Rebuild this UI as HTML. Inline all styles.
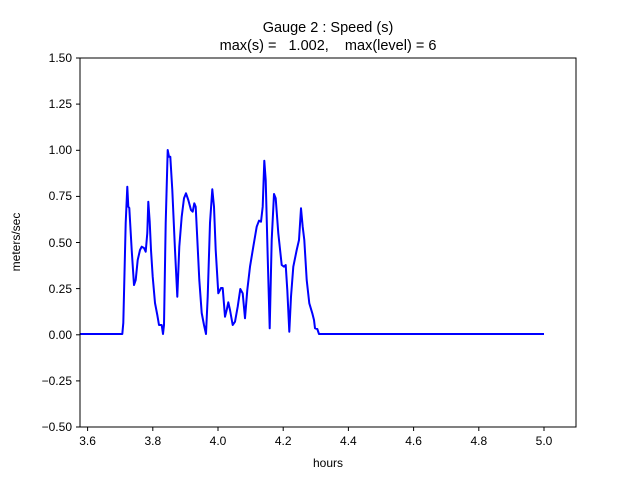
<!DOCTYPE html>
<html><head><meta charset="utf-8"><style>body{margin:0;background:#fff}svg{display:block}text{font-family:"Liberation Sans","DejaVu Sans",sans-serif;fill:#000}</style></head><body>
<svg width="640" height="480" xmlns="http://www.w3.org/2000/svg">
<rect width="640" height="480" fill="#fff"/>
<text x="328" y="32" font-size="14.5" text-anchor="middle">Gauge 2 : Speed (s)</text>
<text x="328" y="50" font-size="14.5" text-anchor="middle" xml:space="preserve">max(s) =   1.002,    max(level) = 6</text>
<polyline fill="none" stroke="#0000ff" stroke-width="2" stroke-linejoin="round" points="80,334 122.3,334 123.3,323 125.7,223 127.3,186.7 128.3,206.7 129.3,208 131.7,250 134,285 135.7,280 137.7,260 140,250 141.7,246.7 144,248 145.7,251.7 147.3,233 148.3,201.7 149.7,221.7 151,250 152.7,276.7 155,303 157.3,315 159,325 161.7,325 163,334 164,325 165.7,223 167.7,150 169,156.7 170.3,156.7 172.3,190 175,250 177.3,296.7 179.3,246.7 181.7,216.7 184,198.3 186,193.3 188.3,200 191,210 192.7,211.7 194.3,203.3 195.7,206.7 197,233 199.3,280 201.7,313 204,325 206,334 207.7,296.7 210,223 212.3,189.3 214,206.7 215.7,250 218.3,293.3 221,288 222.7,288 225,316.7 226.7,310 228.3,302.3 230,310 232.7,325 235,321.7 237.7,306.7 240.3,289 242.7,293.3 245,318.3 247.3,290 250,266.7 253.3,246.7 256.7,226.7 259,220.7 261,221.7 262.7,206.7 264.3,160.7 265.7,180 267.7,256.7 269.7,328.3 271.7,240 274,194 275.7,198.3 278.3,233.3 281.7,265 284,266.7 285.7,265 287.3,290 289.3,331.7 291,296.7 293.3,266.7 296.7,250 299,240 301,208.3 302.7,226.7 304.3,240 306.7,280 309.3,303.3 312.3,313.3 314,320 315,328.3 317.3,329 319,334 544,334"/>
<rect x="80" y="58" width="496" height="369" fill="none" stroke="#000" stroke-width="1"/>
<g stroke="#000" stroke-width="1">
<line x1="87.6" y1="427" x2="87.6" y2="431"/><line x1="152.8" y1="427" x2="152.8" y2="431"/><line x1="218" y1="427" x2="218" y2="431"/><line x1="283.2" y1="427" x2="283.2" y2="431"/><line x1="348.4" y1="427" x2="348.4" y2="431"/><line x1="413.6" y1="427" x2="413.6" y2="431"/><line x1="478.8" y1="427" x2="478.8" y2="431"/><line x1="544" y1="427" x2="544" y2="431"/>
<line x1="76" y1="58" x2="80" y2="58"/><line x1="76" y1="104.1" x2="80" y2="104.1"/><line x1="76" y1="150.3" x2="80" y2="150.3"/><line x1="76" y1="196.4" x2="80" y2="196.4"/><line x1="76" y1="242.5" x2="80" y2="242.5"/><line x1="76" y1="288.6" x2="80" y2="288.6"/><line x1="76" y1="334.8" x2="80" y2="334.8"/><line x1="76" y1="380.9" x2="80" y2="380.9"/><line x1="76" y1="427" x2="80" y2="427"/>
</g>
<g font-size="12" text-anchor="middle">
<text x="87.6" y="445">3.6</text><text x="152.8" y="445">3.8</text><text x="218" y="445">4.0</text><text x="283.2" y="445">4.2</text><text x="348.4" y="445">4.4</text><text x="413.6" y="445">4.6</text><text x="478.8" y="445">4.8</text><text x="544" y="445">5.0</text>
</g>
<g font-size="12" text-anchor="end">
<text x="72" y="62">1.50</text><text x="72" y="108">1.25</text><text x="72" y="154">1.00</text><text x="72" y="200">0.75</text><text x="72" y="247">0.50</text><text x="72" y="293">0.25</text><text x="72" y="339">0.00</text><text x="72" y="385">−0.25</text><text x="72" y="431">−0.50</text>
</g>
<text x="328" y="467" font-size="12" text-anchor="middle">hours</text>
<text x="20" y="242" font-size="12" text-anchor="middle" transform="rotate(-90 20 242)">meters/sec</text>
</svg>
</body></html>
